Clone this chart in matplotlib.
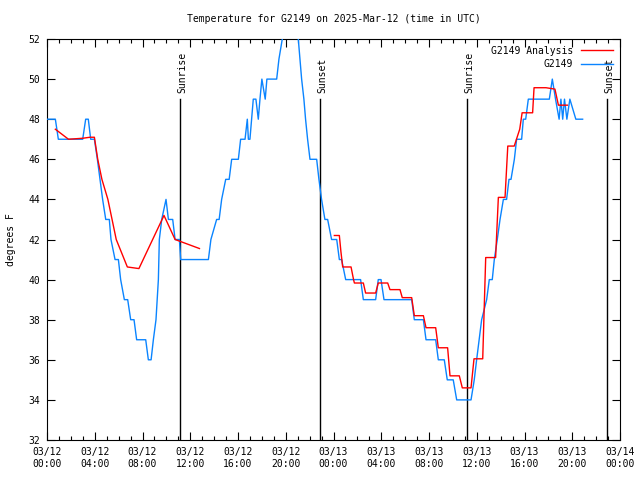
import matplotlib
matplotlib.use("Agg")
import matplotlib.pyplot as plt
import matplotlib.dates as mdates
import numpy as np
import pandas as pd

# hours after 2025-03-12 00:00 UTC, and temperature (F)
obs_hours = [0, 0.70, 0.95, 2.99, 3.24, 3.46, 3.66, 3.97, 4.22, 4.44, 4.66, 4.92, 5.22,
             5.36, 5.70, 5.98, 6.17, 6.48, 6.76, 7.01, 7.29, 7.51, 8.27, 8.49, 8.72,
             8.91, 9.13, 9.33, 9.41, 9.61, 9.97, 10.17, 10.53, 10.73, 11.09, 11.20,
             13.52, 13.73, 14.21, 14.42, 14.63, 14.97, 15.26, 15.47, 16.03, 16.22,
             16.59, 16.78, 16.87, 17.0, 17.14, 17.28, 17.5, 17.7, 17.84, 18.0, 18.28,
             18.42, 19.24, 19.43, 19.71, 20.4, 21.05, 21.19, 21.33, 21.52, 21.66,
             21.83, 22.03, 22.59, 22.78, 23.0, 23.28, 23.51, 23.84, 24.27, 24.49,
             24.68, 25.02, 26.27, 26.5, 27.53, 27.75, 27.98, 28.23, 30.55, 30.77,
             31.53, 31.75, 32.56, 32.78, 33.28, 33.53, 34.03, 34.32, 35.52, 35.79,
             35.99, 36.2, 36.41, 36.83, 37.05, 37.3, 37.47, 37.72, 37.95, 38.23,
             38.5, 38.7, 38.87, 39.15, 39.34, 39.76, 39.9, 40.1, 40.32, 42.08, 42.33,
             42.6, 42.9, 43.05, 43.2, 43.35, 43.55, 43.8, 44.05, 44.3, 44.87]
obs_temp = [48, 48, 47, 47, 48, 48, 47, 47, 46, 45, 44, 43, 43,
            42, 41, 41, 40, 39, 39, 38, 38, 37, 37, 36, 36,
            37, 38, 40, 42, 43, 44, 43, 43, 42, 42, 41,
            41, 42, 43, 43, 44, 45, 45, 46, 46, 47,
            47, 48, 47, 47, 48, 49, 49, 48, 49, 50, 49,
            50, 50, 51, 52, 53.5, 52, 51, 50, 49, 48,
            47, 46, 46, 45, 44, 43, 43, 42, 42, 41,
            41, 40, 40, 39, 39, 40, 40, 39, 39, 38,
            38, 37, 37, 36, 36, 35, 35, 34, 34, 35,
            36, 37, 38, 39, 40, 40, 41, 42, 43, 44,
            44, 45, 45, 46, 47, 47, 48, 48, 49, 49, 50,
            49, 48, 49, 48, 49, 48, 49, 48.5, 48, 48]

ana_hours = [0.7, 1.8, 3.0, 3.6, 3.97, 4.25, 4.6, 5.1, 5.8, 6.73, 7.7, 9.8, 10.73, 12.77,
             np.nan,
             24.07, 24.49, 24.62, 24.77, 25.47, 25.68, 25.75, 26.5, 26.69, 27.53, 27.75,
             28.54, 28.73, 29.57, 29.76, 30.55, 30.77, 31.53, 31.75, 32.56, 32.78,
             33.56, 33.76, 34.54, 34.79, 35.52, 35.77, 36.5, 36.75, 37.58, 37.81,
             38.37, 38.6, 39.14, 39.6, 39.8, 40.68, 40.8, 41.8, 42.55, 42.84, 43.59]
ana_temp = [47.5, 47.0, 47.05, 47.1, 47.1, 46, 45, 44, 42, 40.63, 40.55, 43.2, 42.0, 41.55,
            np.nan,
            42.2, 42.2, 41.4, 40.63, 40.63, 40.0, 39.83, 39.83, 39.33, 39.33, 39.83,
            39.83, 39.5, 39.5, 39.1, 39.1, 38.2, 38.2, 37.6, 37.6, 36.6,
            36.6, 35.2, 35.2, 34.6, 34.6, 36.05, 36.05, 41.1, 41.1, 44.1,
            44.1, 46.66, 46.66, 47.5, 48.32, 48.32, 49.57, 49.57, 49.5, 48.7, 48.7]

sun_events = ["Sunrise", "Sunset", "Sunrise", "Sunset"]
sun_times = ["2025-03-12 11:08", "2025-03-12 22:52", "2025-03-13 11:11", "2025-03-13 22:54"]

t0 = pd.Timestamp("2025-03-12 00:00")
obs_t = t0 + pd.to_timedelta(obs_hours, unit="h")
ana_t = [t0 + pd.Timedelta(hours=h) if not np.isnan(h) else pd.NaT for h in ana_hours]

mono = "DejaVu Sans Mono"
fs = 7

fig = plt.figure(figsize=(6.4, 4.8), dpi=100)
ax = fig.add_axes([47/640, 40/480, 573/640, 401/480])

ax.plot(obs_t, obs_temp, color="#0a84ff", lw=1.0, label="G2149", zorder=3)
ax.plot(pd.to_datetime(ana_t), ana_temp, color="#ff0000", lw=1.0, label="G2149 Analysis", zorder=4)

for name, st in zip(sun_events, sun_times):
    ts = pd.Timestamp(st)
    ax.plot([ts, ts], [32, 49], color="black", lw=1.0, zorder=2)
    ax.text(ts + pd.Timedelta(minutes=12), 49.3, name, rotation=90, ha="center", va="bottom",
            fontsize=fs, family=mono)

ax.set_xlim(t0, t0 + pd.Timedelta(hours=48))
ax.set_ylim(32, 52)
ax.set_yticks(np.arange(32, 53, 2))
ax.xaxis.set_major_locator(mdates.HourLocator(byhour=range(0, 24, 4)))
ax.xaxis.set_minor_locator(mdates.HourLocator())
ax.xaxis.set_major_formatter(mdates.DateFormatter("%m/%d\n%H:%M"))

ax.tick_params(which="both", direction="in", top=True, right=True, labelsize=fs, pad=5)
ax.tick_params(which="major", length=6, width=0.8)
ax.tick_params(which="minor", length=3, width=0.8)
for lab in ax.get_xticklabels() + ax.get_yticklabels():
    lab.set_family(mono)
    lab.set_fontsize(fs)
for s in ax.spines.values():
    s.set_linewidth(0.8)

ax.set_ylabel("degrees F", fontsize=fs, family=mono, labelpad=9)
ax.set_title("Temperature for G2149 on 2025-Mar-12 (time in UTC)", fontsize=fs, family=mono, pad=12)

h, l = ax.get_legend_handles_labels()
leg = ax.legend(h[::-1], l[::-1], loc="upper right", frameon=False, prop={"family": mono, "size": fs},
                markerfirst=False, handlelength=3.3, borderaxespad=0.3, labelspacing=0.35,
                handletextpad=0.8)
for t in leg.get_texts():
    t.set_ha("right")

fig.savefig("out.png", dpi=100)
